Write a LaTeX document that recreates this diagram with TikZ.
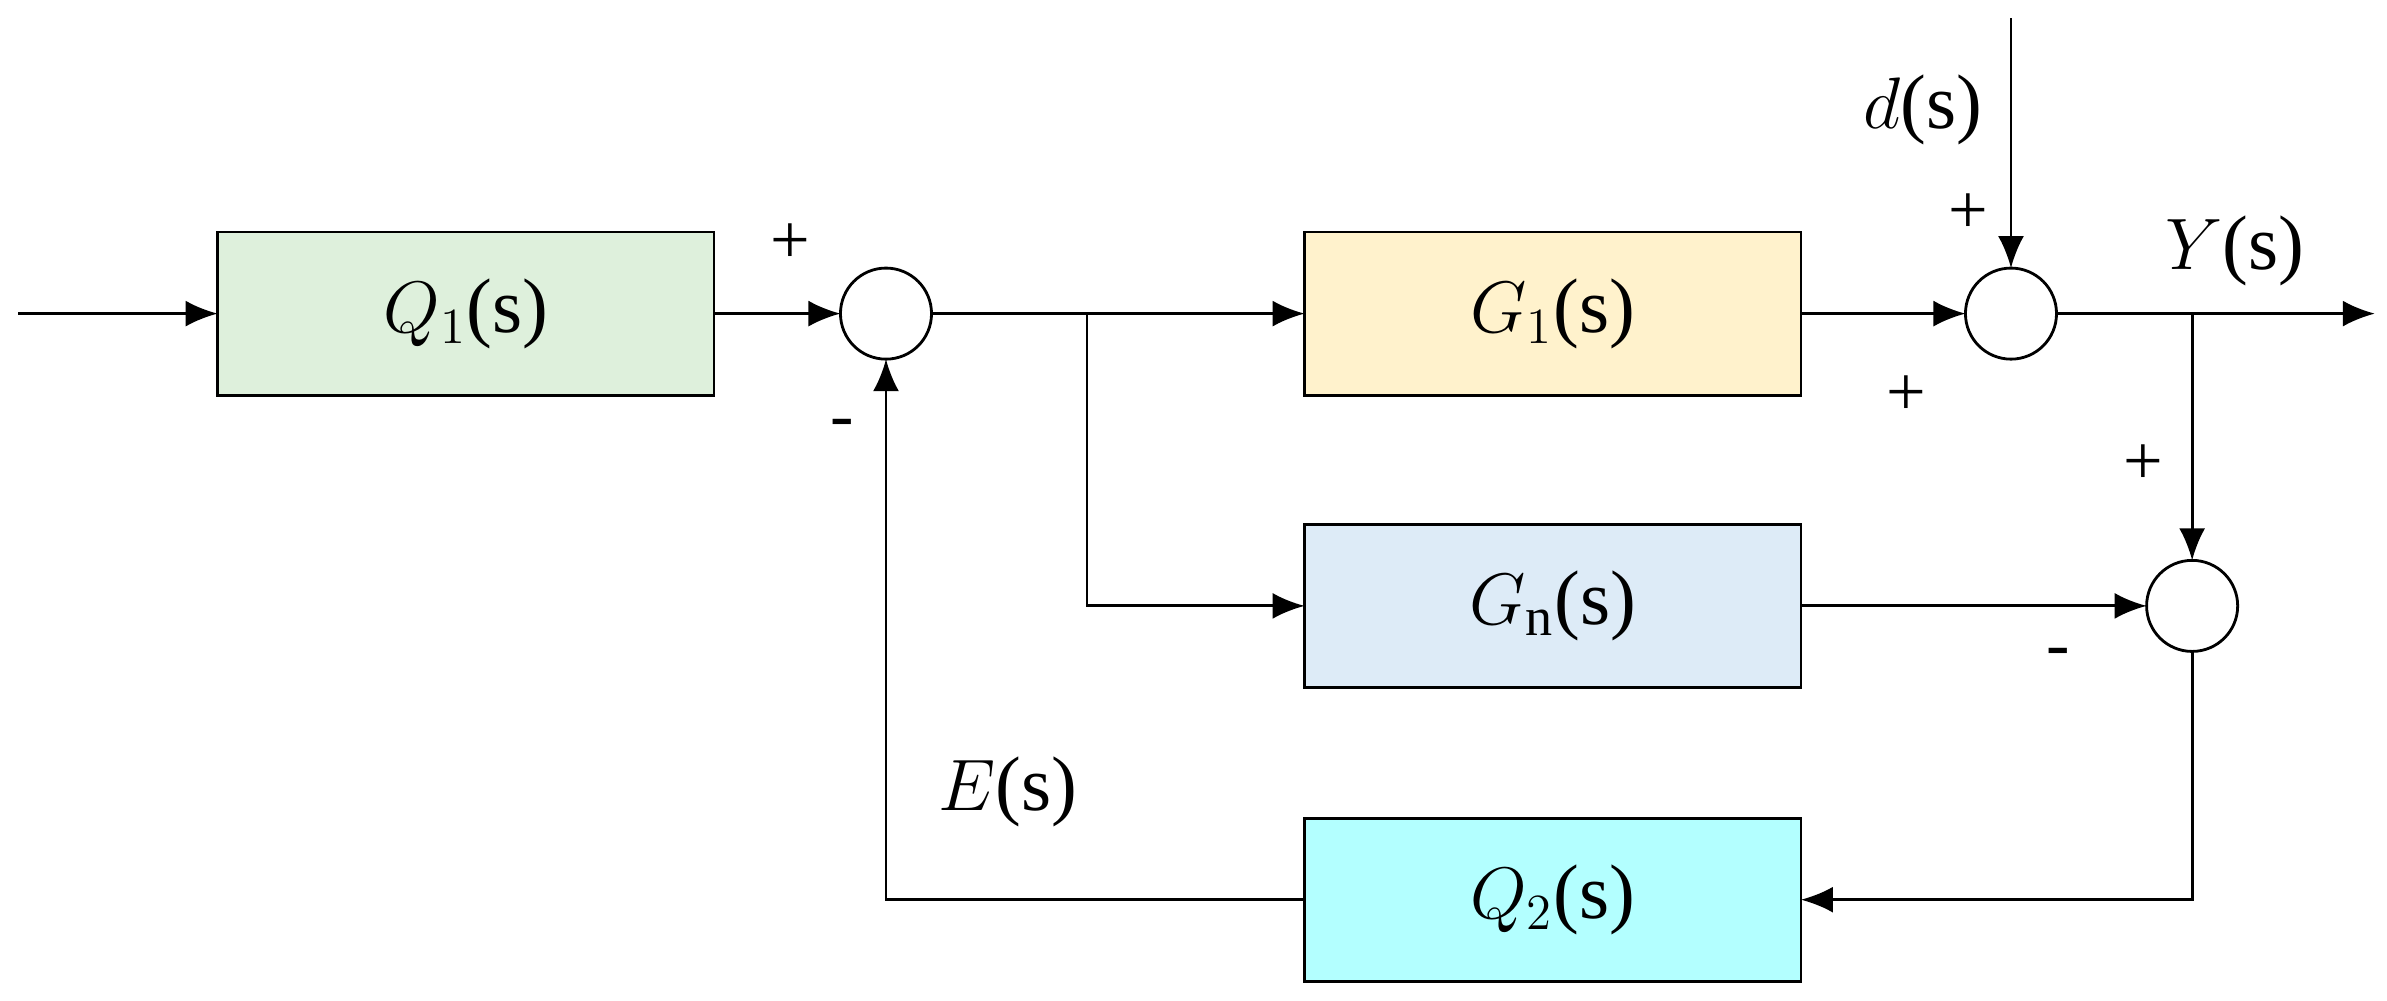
\documentclass[tikz,border=0pt]{standalone}
\usepackage{fontspec}
\setmainfont{Liberation Serif}
\usetikzlibrary{arrows.meta, positioning}
\definecolor{qone}{HTML}{DEF0DC}
\definecolor{gone}{HTML}{FFF2CC}
\definecolor{gen}{HTML}{DDEBF7}
\definecolor{qtwo}{HTML}{B3FFFF}
\begin{document}
\begin{tikzpicture}[
  x=0.01522cm, y=-0.01522cm,
  font=\fontsize{22}{26}\selectfont,
  box/.style={
    draw,
    thick,
    minimum width=4.96cm,
    minimum height=1.63cm,
    inner sep=0pt,
    outer sep=0pt,
    text centered
  },
  sum/.style={
    draw,
    thick,
    circle,
    minimum size=0.91cm,
    inner sep=0pt,
    outer sep=0pt
  },
  arr/.style={
    -{Latex[length=3.2mm, width=2.6mm]},
    thick
  },
  sign/.style={font=\fontsize{20}{24}\selectfont}
]
\useasboundingbox (0,0) rectangle (1568,657);

\node [box, fill=qone] (q1) at (306,206) {$Q_1$(s)};
\node [box, fill=gone] (g1) at (1020,206) {$G_1$(s)};
\node [box, fill=gen] (gn) at (1020,398) {$G_\mathrm{n}$(s)};
\node [box, fill=qtwo] (q2) at (1020,591) {$Q_2$(s)};

\node [sum] (s1) at (582,206) {};
\node [sum] (s2) at (1321,206) {};
\node [sum] (s3) at (1440,398) {};

\coordinate (in) at (12,206);
\coordinate (out) at (1560,206);
\coordinate (dist) at (1321,12);
\coordinate (b1) at (714,206);
\coordinate (b2) at (1440,206);

\draw [arr] (in) -- (q1);
\draw [arr] (q1) -- (s1);
\draw [arr] (s1) -- (g1);
\draw [arr] (b1) |- (gn);
\draw [arr] (g1) -- (s2);
\draw [arr] (dist) -- (s2);
\draw [arr] (s2) -- (out);
\draw [arr] (b2) -- (s3);
\draw [arr] (gn) -- (s3);
\draw [arr] (s3) |- (q2);
\draw [arr] (q2) -| (s1);

\node [sign] at (519,160) {+};
\node [sign] at (553,282) {-};
\node [sign] at (1293,140) {+};
\node [sign] at (1252,260) {+};
\node [sign] at (1408,305) {+};
\node [sign] at (1352,432) {-};

\node at (1263,72) {$d$(s)};
\node at (1468,165) {$Y$(s)};
\node at (662,520) {$E$(s)};
\end{tikzpicture}
\end{document}
